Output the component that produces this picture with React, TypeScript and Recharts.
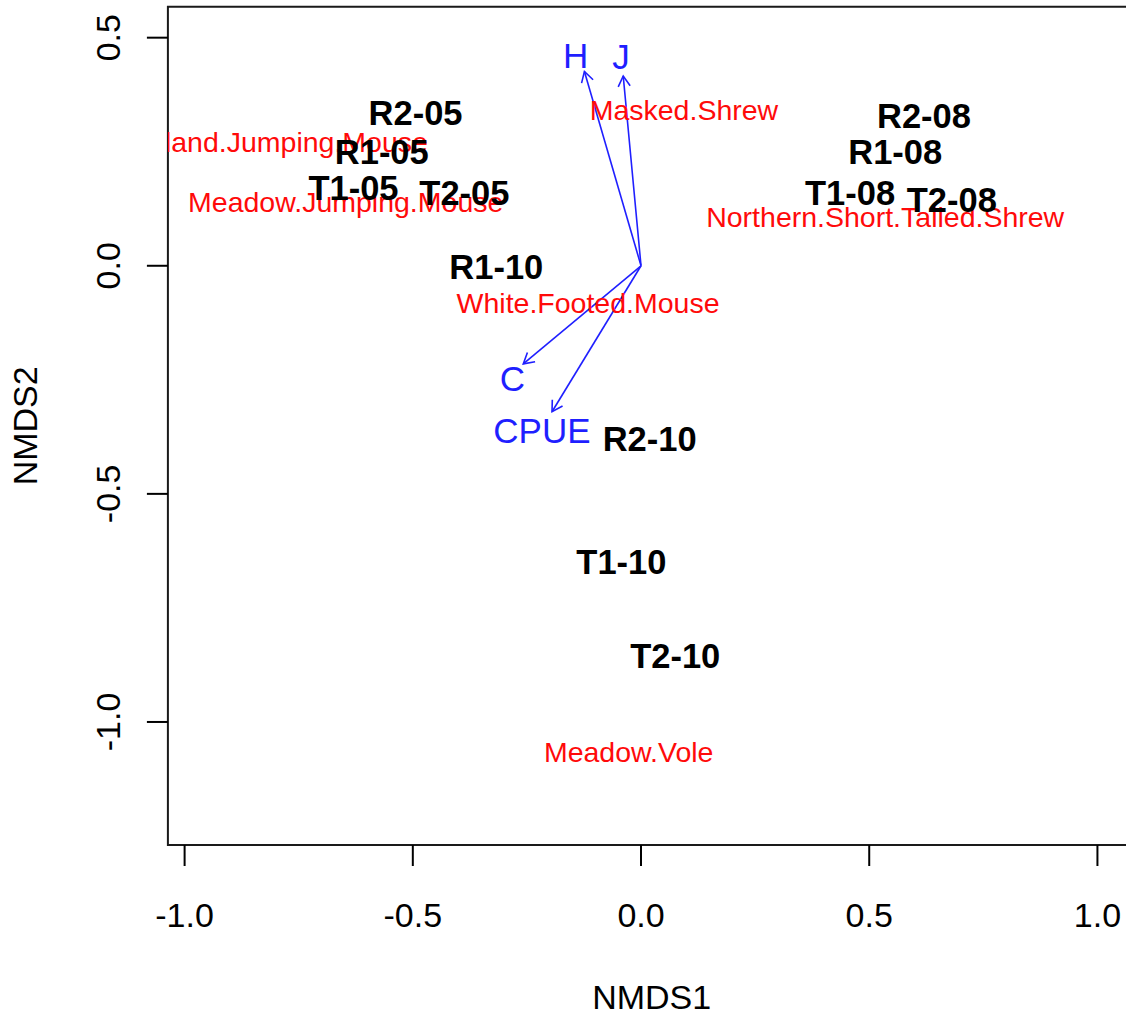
import React from 'react';
import { ScatterChart, Scatter, XAxis, YAxis, ReferenceArea, ReferenceLine } from 'recharts';

const FONT = '"Liberation Sans", Arial, Helvetica, sans-serif';

// NMDS site scores
const siteNames = ['R2-05', 'R1-05', 'T1-05', 'T2-05', 'R1-10', 'R2-08', 'R1-08', 'T1-08', 'T2-08', 'R2-10', 'T1-10', 'T2-10'];
const siteNmds1 = [-0.494, -0.568, -0.630, -0.387, -0.317, 0.620, 0.557, 0.458, 0.681, 0.019, -0.043, 0.075];
const siteNmds2 = [0.335, 0.249, 0.170, 0.159, -0.002, 0.329, 0.250, 0.159, 0.144, -0.380, -0.649, -0.855];

// species scores
const speciesNames = [
  'Woodland.Jumping.Mouse',
  'Meadow.Jumping.Mouse',
  'Masked.Shrew',
  'Northern.Short.Tailed.Shrew',
  'White.Footed.Mouse',
  'Meadow.Vole',
];
const speciesNmds1 = [-0.836, -0.647, 0.094, 0.535, -0.116, -0.027];
const speciesNmds2 = [0.272, 0.139, 0.342, 0.108, -0.082, -1.065];

// fitted environmental vectors (arrow tips) and their label positions
const vectorNames = ['H', 'J', 'C', 'CPUE'];
const vectorNmds1 = [-0.124, -0.039, -0.258, -0.195];
const vectorNmds2 = [0.426, 0.416, -0.215, -0.320];
const vectorLabelNmds1 = [-0.143, -0.044, -0.282, -0.217];
const vectorLabelNmds2 = [0.460, 0.459, -0.248, -0.360];

const xTicks = [-1, -0.5, 0, 0.5, 1];
const yTicks = [-1, -0.5, 0, 0.5];

const XMIN = -1.0366;
const XMAX = 1.0834;
const YMIN = -1.2697;
const YMAX = 0.5679;

const sites = siteNames.map((name, i) => ({ name, x: siteNmds1[i], y: siteNmds2[i] }));
const species = speciesNames.map((name, i) => ({ name, x: speciesNmds1[i], y: speciesNmds2[i] }));
const vectorLabels = vectorNames.map((name, i) => ({ name, x: vectorLabelNmds1[i], y: vectorLabelNmds2[i] }));

const BLUE = '#1f1fff';
const RED = '#ff0a0a';

function makeLabel(fill: string, size: number, weight: string) {
  return (props: any) => (
    <text
      x={props.cx}
      y={props.cy}
      textAnchor="middle"
      dominantBaseline="central"
      fontFamily={FONT}
      fontSize={size}
      fontWeight={weight}
      fill={fill}
    >
      {props.payload.name}
    </text>
  );
}

const Arrow = (props: any) => {
  const { x1, y1, x2, y2 } = props;
  const a = Math.atan2(y2 - y1, x2 - x1);
  const len = 12;
  const spread = Math.PI / 6;
  const ax = x2 - len * Math.cos(a - spread);
  const ay = y2 - len * Math.sin(a - spread);
  const bx = x2 - len * Math.cos(a + spread);
  const by = y2 - len * Math.sin(a + spread);
  return (
    <g stroke={BLUE} strokeWidth={1.6} fill="none">
      <line x1={x1} y1={y1} x2={x2} y2={y2} />
      <polyline points={`${ax},${ay} ${x2},${y2} ${bx},${by}`} />
    </g>
  );
};

const XTick = ({ x, y, payload }: any) => (
  <text x={x} y={y + 61} textAnchor="middle" fontFamily={FONT} fontSize={34} fill="#000">
    {Number(payload.value).toFixed(1)}
  </text>
);

const YTick = ({ x, y, payload }: any) => {
  const bx = x - 27;
  return (
    <text
      x={bx}
      y={y}
      transform={`rotate(-90 ${bx} ${y})`}
      textAnchor="middle"
      fontFamily={FONT}
      fontSize={34}
      fill="#000"
    >
      {Number(payload.value).toFixed(1)}
    </text>
  );
};

const xTitle = (props: any) => {
  const vb = props.viewBox ?? { x: 167.9, y: 845, width: 967.6, height: 171 };
  return (
    <text x={vb.x + vb.width / 2} y={vb.y + 164} textAnchor="middle" fontFamily={FONT} fontSize={34} fill="#000">
      NMDS1
    </text>
  );
};

const yTitle = (props: any) => {
  const vb = props.viewBox ?? { x: 0, y: 6.7, width: 167.9, height: 838.3 };
  const cx = vb.x + 37;
  const cy = vb.y + vb.height / 2;
  return (
    <text
      x={cx}
      y={cy}
      transform={`rotate(-90 ${cx} ${cy})`}
      textAnchor="middle"
      fontFamily={FONT}
      fontSize={34}
      fill="#000"
    >
      NMDS2
    </text>
  );
};

export default function App() {
  return (
    <div
      style={{
        position: 'absolute',
        left: 0,
        top: 0,
        width: 1126,
        height: 1016,
        overflow: 'hidden',
        background: '#fff',
      }}
    >
      <ScatterChart width={1200} height={1016} margin={{ top: 6.7, right: 64.5, bottom: 0, left: 0 }}>
        <XAxis
          type="number"
          dataKey="x"
          domain={[XMIN, XMAX]}
          ticks={xTicks}
          interval={0}
          allowDataOverflow
          height={171}
          axisLine={false}
          tickLine={{ stroke: '#000', strokeWidth: 2 }}
          tickSize={21}
          tickMargin={0}
          tick={<XTick />}
          label={xTitle}
        />
        <YAxis
          type="number"
          dataKey="y"
          domain={[YMIN, YMAX]}
          ticks={yTicks}
          interval={0}
          allowDataOverflow
          width={167.9}
          axisLine={false}
          tickLine={{ stroke: '#000', strokeWidth: 2 }}
          tickSize={21}
          tickMargin={0}
          tick={<YTick />}
          label={yTitle}
        />
        <ReferenceArea x1={XMIN} x2={XMAX} y1={YMIN} y2={YMAX} fill="none" stroke="#1a1a1a" strokeWidth={2} />
        {vectorNames.map((name, i) => (
          <ReferenceLine
            key={name}
            segment={[
              { x: 0, y: 0 },
              { x: vectorNmds1[i], y: vectorNmds2[i] },
            ]}
            shape={Arrow}
          />
        ))}
        <Scatter data={species} shape={makeLabel(RED, 28.5, 'normal')} isAnimationActive={false} />
        <Scatter data={sites} shape={makeLabel('#000', 34.5, 'bold')} isAnimationActive={false} />
        <Scatter data={vectorLabels} shape={makeLabel(BLUE, 35, 'normal')} isAnimationActive={false} />
      </ScatterChart>
    </div>
  );
}
